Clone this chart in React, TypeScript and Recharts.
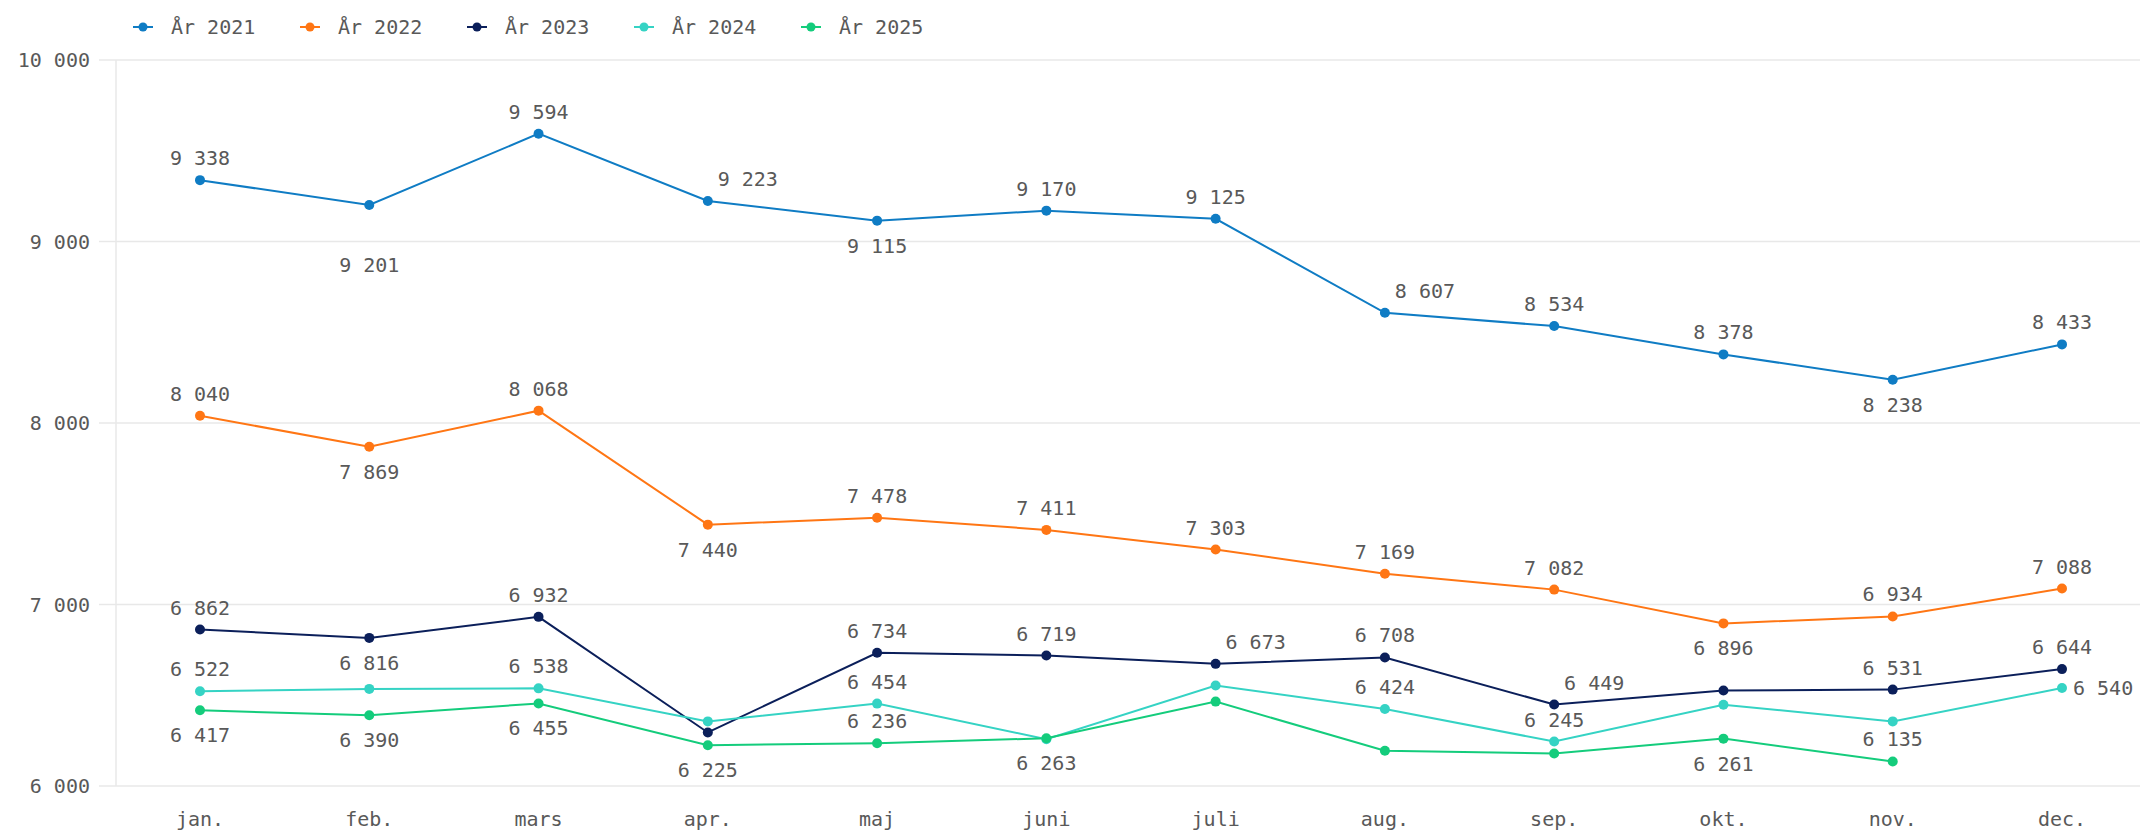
import { LineChart, Line, XAxis, YAxis, CartesianGrid, LabelList } from 'recharts';

const MONTHS = ['jan.', 'feb.', 'mars', 'apr.', 'maj', 'juni', 'juli', 'aug.', 'sep.', 'okt.', 'nov.', 'dec.'];
const Y_TICKS = [6000, 7000, 8000, 9000, 10000];

const YEAR_2021 = [9338, 9201, 9594, 9223, 9115, 9170, 9125, 8607, 8534, 8378, 8238, 8433];
const YEAR_2022 = [8040, 7869, 8068, 7440, 7478, 7411, 7303, 7169, 7082, 6896, 6934, 7088];
const YEAR_2023 = [6862, 6816, 6932, 6295, 6734, 6719, 6673, 6708, 6449, 6526, 6531, 6644];
const YEAR_2024 = [6522, 6535, 6538, 6356, 6454, 6258, 6554, 6424, 6245, 6448, 6356, 6540];
const YEAR_2025 = [6417, 6390, 6455, 6225, 6236, 6263, 6465, 6194, 6179, 6261, 6135, null];

// where each value label sits: u above, d below, dd further below, ur above-right, r right, '' hidden
const LABELS_2021 = ['u', 'dd', 'u', 'ur', 'd', 'u', 'u', 'ur', 'u', 'u', 'd', 'u'];
const LABELS_2022 = ['u', 'd', 'u', 'd', 'u', 'u', 'u', 'u', 'u', 'd', 'u', 'u'];
const LABELS_2023 = ['u', 'd', 'u', '', 'u', 'u', 'ur', 'u', 'ur', '', 'u', 'u'];
const LABELS_2024 = ['u', '', 'u', '', 'u', '', '', 'u', 'u', '', '', 'r'];
const LABELS_2025 = ['d', 'd', 'd', 'd', 'u', 'd', '', '', '', 'd', 'u', ''];

const SERIES = [
  { key: 'y2021', name: 'År 2021', values: YEAR_2021, labels: LABELS_2021, color: '#0f7cc4' },
  { key: 'y2022', name: 'År 2022', values: YEAR_2022, labels: LABELS_2022, color: '#ff7614' },
  { key: 'y2023', name: 'År 2023', values: YEAR_2023, labels: LABELS_2023, color: '#0b1f5a' },
  { key: 'y2024', name: 'År 2024', values: YEAR_2024, labels: LABELS_2024, color: '#35d3c4' },
  { key: 'y2025', name: 'År 2025', values: YEAR_2025, labels: LABELS_2025, color: '#14cc7c' },
];

const data = MONTHS.map((month, i) => {
  const row: Record<string, any> = { month };
  SERIES.forEach((s) => {
    row[s.key] = s.values[i];
  });
  return row;
});

const FONT = '"DejaVu Sans Mono", monospace';
const TEXT = '#595959';
const GRID = '#e8e8e8';

const fmt = (v: number) => String(v).replace(/\B(?=(\d{3})+(?!\d))/g, ' ');

const makeLabel = (placement: string[]) => (props: any) => {
  const { x, y, value, index } = props;
  const p = placement[index];
  if (!p || value == null) return null;
  let dx = 0;
  let dy = 0;
  let anchor: 'middle' | 'start' = 'middle';
  if (p === 'u') dy = -22;
  else if (p === 'd') dy = 25;
  else if (p === 'dd') dy = 60;
  else if (p === 'ur') {
    dx = 40;
    dy = -22;
  } else if (p === 'r') {
    dx = 11;
    anchor = 'start';
  }
  return (
    <text
      x={x + dx}
      y={y + dy}
      textAnchor={anchor}
      dominantBaseline="central"
      fill={TEXT}
      fontSize={20}
      fontFamily={FONT}
    >
      {fmt(value)}
    </text>
  );
};

export default function App() {
  return (
    <div style={{ position: 'absolute', left: 0, top: 0, width: 2140, height: 832, fontFamily: FONT, background: '#fff' }}>
      <div style={{ position: 'absolute', left: 133, top: 14, display: 'flex', color: TEXT, fontSize: 20 }}>
        {SERIES.map((s) => (
          <div key={s.key} style={{ display: 'flex', alignItems: 'center', width: 167, height: 26 }}>
            <svg width={20} height={10} style={{ marginRight: 18 }}>
              <line x1={0} y1={5} x2={20} y2={5} stroke={s.color} strokeWidth={2} />
              <circle cx={10} cy={5} r={4.5} fill={s.color} />
            </svg>
            <span>{s.name}</span>
          </div>
        ))}
      </div>
      <LineChart width={2140} height={832} data={data} margin={{ top: 60, right: 0, bottom: 0, left: 0 }}>
        <CartesianGrid vertical={false} stroke={GRID} strokeWidth={1.5} />
        <XAxis
          dataKey="month"
          padding={{ left: 84, right: 78 }}
          tickLine={false}
          axisLine={false}
          tickSize={0}
          tickMargin={26}
          height={46}
          interval={0}
          tick={{ fill: TEXT, fontSize: 20, fontFamily: FONT }}
        />
        <YAxis
          domain={[6000, 10000]}
          ticks={Y_TICKS}
          width={116}
          tickSize={17}
          tickMargin={9}
          tickLine={{ stroke: GRID, strokeWidth: 1.5 }}
          axisLine={{ stroke: GRID, strokeWidth: 1.5 }}
          tickFormatter={fmt}
          tick={{ fill: TEXT, fontSize: 20, fontFamily: FONT }}
        />
        {SERIES.map((s) => (
          <Line
            key={s.key}
            type="linear"
            dataKey={s.key}
            name={s.name}
            stroke={s.color}
            strokeWidth={2}
            dot={{ r: 5, fill: s.color, stroke: s.color, strokeWidth: 0 }}
            activeDot={false}
            isAnimationActive={false}
          >
            <LabelList dataKey={s.key} content={makeLabel(s.labels)} />
          </Line>
        ))}
      </LineChart>
    </div>
  );
}
